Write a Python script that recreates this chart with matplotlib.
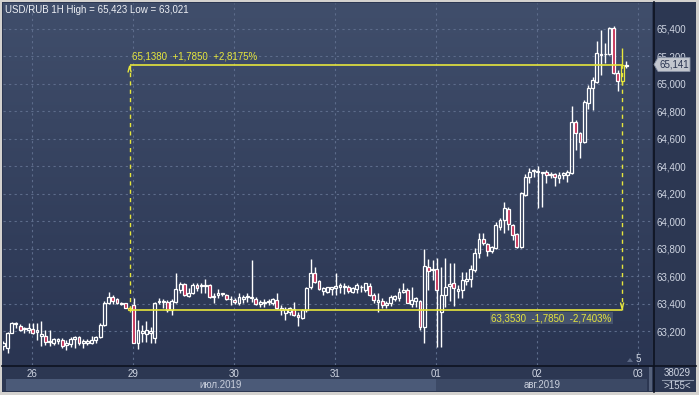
import matplotlib
matplotlib.use("Agg")
import matplotlib.pyplot as plt
import matplotlib.transforms as mtransforms
import numpy as np
from matplotlib.colors import LinearSegmentedColormap
from matplotlib.lines import Line2D
from matplotlib.patches import Rectangle, Polygon

plt.rcParams['font.family'] = ['Liberation Sans', 'DejaVu Sans']

# hourly candles USD/RUB, 25.07 evening -> 02.08
opens = [63.090, 63.074, 63.188, 63.250, 63.239, 63.213, 63.208, 63.213, 63.191, 63.164,
         63.164, 63.123, 63.116, 63.128, 63.135, 63.099, 63.103, 63.140, 63.154, 63.110,
         63.111, 63.111, 63.135, 63.154, 63.244, 63.407, 63.446, 63.431, 63.407, 63.402,
         63.370, 63.390, 63.111, 63.188, 63.179, 63.188, 63.147, 63.410, 63.420, 63.414,
         63.353, 63.414, 63.499, 63.543, 63.455, 63.475, 63.535, 63.528, 63.530, 63.535,
         63.446, 63.463, 63.470, 63.463, 63.430, 63.426, 63.407, 63.431, 63.445, 63.440,
         63.431, 63.400, 63.407, 63.410, 63.407, 63.426, 63.353, 63.334, 63.341, 63.358,
         63.317, 63.293, 63.353, 63.518, 63.625, 63.567, 63.494, 63.487, 63.504, 63.511,
         63.518, 63.521, 63.523, 63.487, 63.504, 63.518, 63.499, 63.528, 63.463, 63.414,
         63.421, 63.390, 63.407, 63.431, 63.438, 63.487, 63.499, 63.400, 63.419, 63.419,
         63.232, 63.669, 63.645, 63.650, 63.341, 63.463, 63.528, 63.548, 63.494, 63.499,
         63.567, 63.577, 63.645, 63.766, 63.868, 63.834, 63.785, 63.802, 63.960, 64.009,
         64.087, 63.972, 63.907, 63.815, 64.191, 64.320, 64.363, 64.356, 64.356, 64.361,
         64.334, 64.341, 64.312, 64.337, 64.337, 64.353, 64.725, 64.640, 64.579, 64.863,
         64.968, 65.016, 65.220, 65.215, 65.218, 65.405, 65.077, 65.024, 65.132]
highs = [63.128, 63.196, 63.268, 63.268, 63.249, 63.232, 63.256, 63.256, 63.261, 63.273,
         63.208, 63.208, 63.147, 63.147, 63.147, 63.135, 63.154, 63.164, 63.164, 63.140,
         63.140, 63.164, 63.164, 63.256, 63.421, 63.487, 63.463, 63.438, 63.414, 63.407,
         63.380, 63.438, 63.281, 63.244, 63.270, 63.232, 63.414, 63.438, 63.431, 63.426,
         63.431, 63.625, 63.560, 63.552, 63.511, 63.548, 63.548, 63.548, 63.577, 63.543,
         63.475, 63.504, 63.480, 63.470, 63.455, 63.438, 63.475, 63.463, 63.475, 63.720,
         63.450, 63.426, 63.431, 63.431, 63.438, 63.480, 63.390, 63.378, 63.378, 63.414,
         63.341, 63.358, 63.518, 63.722, 63.664, 63.572, 63.518, 63.523, 63.523, 63.625,
         63.552, 63.548, 63.535, 63.523, 63.548, 63.535, 63.552, 63.548, 63.480, 63.480,
         63.438, 63.421, 63.463, 63.463, 63.511, 63.548, 63.511, 63.518, 63.446, 63.426,
         63.795, 63.722, 63.718, 63.730, 63.669, 63.730, 63.693, 63.693, 63.535, 63.632,
         63.632, 63.681, 63.802, 63.912, 63.917, 63.844, 63.820, 63.997, 64.021, 64.140,
         64.100, 63.980, 63.912, 64.215, 64.344, 64.385, 64.383, 64.402, 64.361, 64.373,
         64.361, 64.353, 64.361, 64.361, 64.373, 64.840, 64.737, 64.652, 64.883, 64.992,
         65.053, 65.315, 65.393, 65.300, 65.412, 65.422, 65.100, 65.260, 65.170]
lows = [63.062, 63.043, 63.183, 63.220, 63.203, 63.188, 63.183, 63.179, 63.135, 63.091,
        63.099, 63.091, 63.099, 63.106, 63.074, 63.062, 63.086, 63.074, 63.099, 63.074,
        63.099, 63.106, 63.111, 63.147, 63.237, 63.397, 63.397, 63.397, 63.390, 63.366,
        63.340, 63.111, 63.067, 63.123, 63.123, 63.110, 63.110, 63.397, 63.366, 63.341,
        63.317, 63.402, 63.475, 63.455, 63.450, 63.470, 63.494, 63.475, 63.475, 63.438,
        63.407, 63.438, 63.455, 63.426, 63.390, 63.397, 63.390, 63.407, 63.414, 63.414,
        63.390, 63.378, 63.373, 63.390, 63.390, 63.358, 63.317, 63.281, 63.317, 63.310,
        63.237, 63.285, 63.341, 63.504, 63.548, 63.499, 63.463, 63.475, 63.463, 63.463,
        63.475, 63.470, 63.480, 63.480, 63.480, 63.487, 63.487, 63.455, 63.402, 63.341,
        63.365, 63.365, 63.382, 63.421, 63.421, 63.480, 63.402, 63.378, 63.373, 63.208,
        63.115, 63.499, 63.572, 63.081, 63.081, 63.378, 63.421, 63.382, 63.438, 63.438,
        63.535, 63.523, 63.632, 63.730, 63.827, 63.747, 63.771, 63.795, 63.936, 63.912,
        63.936, 63.863, 63.802, 63.802, 64.183, 64.281, 64.325, 64.094, 64.106, 64.276,
        64.312, 64.257, 64.281, 64.305, 64.288, 64.344, 64.519, 64.458, 64.572, 64.815,
        64.810, 65.009, 65.065, 65.150, 65.211, 65.072, 64.951, 64.992, 65.114]
closes = [63.110, 63.188, 63.261, 63.256, 63.208, 63.220, 63.220, 63.184, 63.208, 63.176,
          63.123, 63.128, 63.140, 63.140, 63.091, 63.111, 63.140, 63.154, 63.116, 63.128,
          63.130, 63.135, 63.154, 63.244, 63.407, 63.446, 63.421, 63.402, 63.400, 63.370,
          63.353, 63.116, 63.208, 63.203, 63.208, 63.200, 63.407, 63.420, 63.414, 63.353,
          63.421, 63.504, 63.543, 63.463, 63.480, 63.535, 63.511, 63.535, 63.535, 63.446,
          63.455, 63.475, 63.475, 63.431, 63.432, 63.414, 63.446, 63.445, 63.455, 63.450,
          63.397, 63.414, 63.414, 63.414, 63.431, 63.365, 63.365, 63.358, 63.365, 63.317,
          63.300, 63.353, 63.511, 63.625, 63.560, 63.504, 63.511, 63.518, 63.518, 63.528,
          63.535, 63.528, 63.494, 63.511, 63.535, 63.523, 63.548, 63.463, 63.426, 63.426,
          63.390, 63.407, 63.450, 63.455, 63.487, 63.499, 63.407, 63.426, 63.438, 63.232,
          63.674, 63.637, 63.654, 63.499, 63.463, 63.518, 63.540, 63.511, 63.504, 63.572,
          63.577, 63.650, 63.766, 63.868, 63.839, 63.785, 63.810, 63.972, 64.009, 64.094,
          63.980, 63.900, 63.815, 64.203, 64.324, 64.361, 64.375, 64.363, 64.349, 64.337,
          64.344, 64.324, 64.337, 64.349, 64.361, 64.725, 64.640, 64.579, 64.870, 64.968,
          65.028, 65.223, 65.210, 65.220, 65.405, 65.077, 65.024, 65.138, 65.141]

day_labels = ["26", "29", "30", "31", "01", "02", "03"]
day_pos = [6.8, 30.8, 54.8, 78.8, 102.8, 126.8, 150.8]
month_labels = ["июл.2019", "авг.2019"]
price_ticks = [63.2, 63.4, 63.6, 63.8, 64.0, 64.2, 64.4, 64.6, 64.8, 65.0, 65.2, 65.4]

measure_from = 30   # candle index where the measuring tool starts
measure_to = 147    # candle index where it ends

W, H = 699, 395
fig = plt.figure(figsize=(W / 100, H / 100), dpi=100)
fig.patch.set_facecolor("#d4d2cf")


def fx(px):
    return px / W


def fy(py):
    return 1 - py / H


def comma(v, nd):
    return f"{v:.{nd}f}".replace(".", ",")


bg = LinearSegmentedColormap.from_list("bg", ["#404e6b", "#2a3552"])
grad = np.linspace(0, 1, 256).reshape(-1, 1)

# dark panel behind everything (bottom strip)
fig.add_artist(Rectangle((fx(2), fy(392)), fx(696) - fx(2), fy(2) - fy(392),
                         transform=fig.transFigure, facecolor="#2c3752", edgecolor="none", zorder=0))

# right scale panel with the same gradient as the plot
side = fig.add_axes([fx(653), fy(365), fx(696) - fx(653), fy(2) - fy(365)], zorder=-1)
side.imshow(grad, cmap=bg, aspect="auto", extent=[0, 1, 0, 1])
side.set_axis_off()

ax = fig.add_axes([fx(3), fy(365), fx(652) - fx(3), fy(3) - fy(365)])
xlim = (-0.07, 154.1)
ylim = (62.953, 65.589)
ax.imshow(grad, cmap=bg, aspect="auto",
          extent=[xlim[0], xlim[1], ylim[0], ylim[1]], zorder=0)

for s in ax.spines.values():
    s.set_visible(False)

ax.set_axisbelow(True)
ax.set_xticks(day_pos)
ax.set_xticklabels(day_labels)
ax.set_yticks(price_ticks)
ax.set_yticklabels([comma(v, 3) for v in price_ticks])
ax.yaxis.tick_right()
ax.tick_params(length=0, labelsize=7, labelcolor="#cfd5e2")
ax.tick_params(axis="y", pad=3.5)
ax.tick_params(axis="x", pad=3)
ax.grid(color="#5d6c8b", linestyle=(0, (2, 3)), linewidth=0.8)
ax.set_xlim(*xlim)
ax.set_ylim(*ylim)

# candles
x = np.arange(len(opens))
o = np.array(opens)
c = np.array(closes)
hi = np.array(highs)
lo = np.array(lows)
top = np.maximum(o, c)
bot = np.minimum(o, c)
height = np.maximum(top - bot, 0.006)
up = c >= o

edge = np.array(["white"] * len(x), dtype=object)
edge[measure_from] = "#e8e83c"
edge[measure_to] = "#e8e83c"

ax.vlines(x, top, hi, color=list(edge), linewidth=1, zorder=3)
ax.vlines(x, lo, bot, color=list(edge), linewidth=1, zorder=3)
face = np.where(up, "none", "#c3284f")
ax.bar(x, height, bottom=bot, width=0.68, color=list(face), edgecolor=list(edge),
       linewidth=0.9, zorder=4)

# measuring tool
yellow = "#e6e63c"
p0 = closes[measure_from]
p1 = closes[measure_to]
ax.hlines([p0, p1], measure_from, measure_to, color=yellow, linewidth=1.2, zorder=5)
ax.vlines([measure_from, measure_to], p0, p1, color=yellow, linewidth=1,
          linestyles=(0, (3, 3)), zorder=5)
ax.plot([measure_from - 0.35, measure_from, measure_from + 0.35], [p1 - 0.05, p1 - 0.01, p1 - 0.05],
        color=yellow, linewidth=1, zorder=5)
ax.plot([measure_to - 0.35, measure_to, measure_to + 0.35], [p0 + 0.05, p0 + 0.01, p0 + 0.05],
        color=yellow, linewidth=1, zorder=5)
diff = p1 - p0
ax.text(measure_from + 0.5, p1 + 0.025,
        f"{comma(p1, 4)}  +{comma(diff, 4)}  +{comma(diff / p0 * 100, 4)}%",
        color=yellow, fontsize=7, va="bottom", ha="left", zorder=6)
ax.text(measure_to - 2.5, p0 - 0.058,
        f"{comma(p0, 4)}  -{comma(diff, 4)}  -{comma(diff / p1 * 100, 4)}%",
        color=yellow, fontsize=7, va="center", ha="right", zorder=6,
        bbox=dict(boxstyle="square,pad=0.15", facecolor="#46536d", edgecolor="none"))

# title
fig.text(fx(5), fy(10), "USD/RUB 1H High = 65,423 Low = 63,021", color="#eef0f5",
         fontsize=7, va="center", ha="left")

# last price tag on the right scale
tr = mtransforms.blended_transform_factory(fig.transFigure, ax.transData)
last = closes[-1]
dy = 0.05
tag = Polygon([(fx(654), last), (fx(658), last + dy), (fx(690), last + dy),
               (fx(690), last - dy), (fx(658), last - dy)], closed=True,
              transform=tr, facecolor="#c3c7cf", edgecolor="#8a93a6", linewidth=0.6,
              clip_on=False, zorder=7)
fig.add_artist(tag)
fig.text(fx(674), 0, comma(last, 3), transform=tr, fontsize=7, color="#2a3450",
         ha="center", va="center", zorder=8).set_y(last)

# separators
fig.add_artist(Line2D([fx(2), fx(696)], [fy(365.5), fy(365.5)], color="#0d1220", linewidth=1.2))
fig.add_artist(Line2D([fx(653.5), fx(653.5)], [fy(2), fy(392)], color="#0d1220", linewidth=1.2))

# month band
bt = mtransforms.blended_transform_factory(ax.transData, fig.transFigure)
fig.add_artist(Rectangle((0.6, fy(391)), day_pos[4] - 0.6, fy(379) - fy(391), transform=bt,
                         facecolor="#4b5a78", edgecolor="none", zorder=1))
fig.add_artist(Rectangle((day_pos[4], fy(391)), 153.0 - day_pos[4], fy(379) - fy(391), transform=bt,
                         facecolor="#3c4965", edgecolor="none", zorder=1))
fig.add_artist(Rectangle((fx(649), fy(391)), fx(652) - fx(649), fy(367) - fy(391),
                         transform=fig.transFigure, facecolor="#55617b", edgecolor="none", zorder=1))
fig.text(0, fy(385.5), month_labels[0], transform=bt, fontsize=7, color="#c9cfdc",
         ha="center", va="center").set_x((0.6 + day_pos[4]) / 2)
fig.text(0, fy(385.5), month_labels[1], transform=bt, fontsize=7, color="#c9cfdc",
         ha="center", va="center").set_x((day_pos[4] + 153.0) / 2)

# bottom right info
fig.text(fx(677), fy(373), "38029", fontsize=7, color="#cfd5e2", ha="center", va="center")
fig.text(fx(677), fy(386), ">155<", fontsize=7, color="#cfd5e2", ha="center", va="center")
fig.add_artist(Line2D([fx(662), fx(693)], [fy(379.5), fy(379.5)], color="#8c96aa", linewidth=0.8))

# small marker near the bottom right of the plot
fig.add_artist(Polygon([(fx(627), fy(362)), (fx(633), fy(362)), (fx(630), fy(358))],
                       closed=True, transform=fig.transFigure, facecolor="#5b6884", edgecolor="none"))
fig.text(fx(638), fy(359), "5", fontsize=7, color="#cfd5e2", ha="center", va="center")

fig.savefig("out.png", dpi=100, facecolor=fig.get_facecolor())
